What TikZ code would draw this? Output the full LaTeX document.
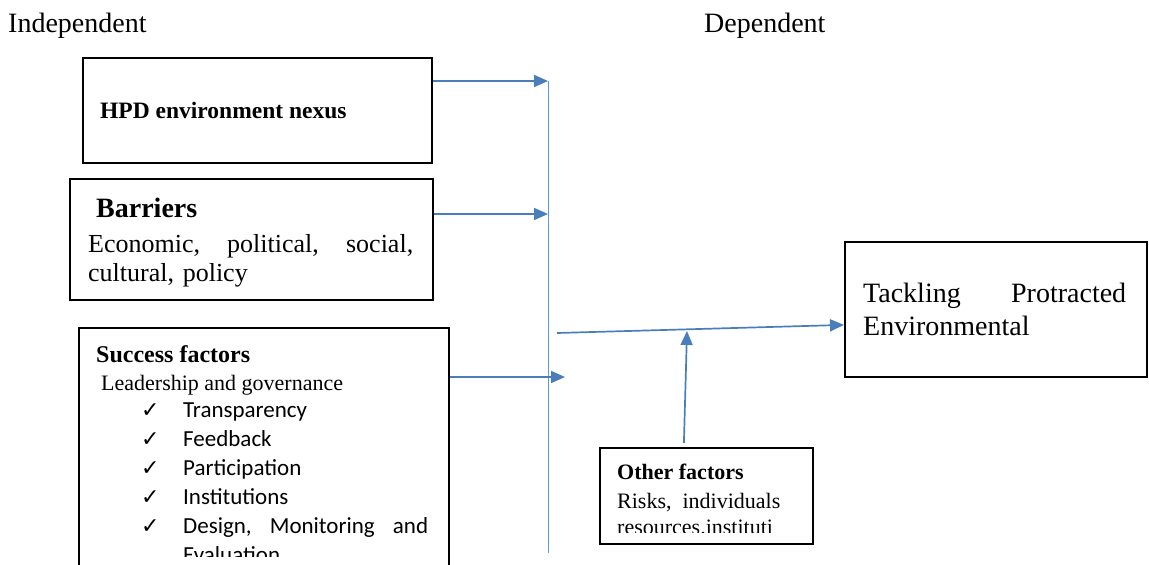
\documentclass[tikz,border=0pt]{standalone}
\usepackage{fontspec}
\setmainfont{Liberation Serif}
\newfontfamily\calfont{Carlito}
\newfontfamily\symfont{DejaVu Sans}
\usetikzlibrary{arrows.meta}
\definecolor{arrblue}{RGB}{74,126,187}
\definecolor{lineblue}{RGB}{91,155,213}
\begin{document}
\begin{tikzpicture}[x=1pt,y=-1pt,
  box/.style={draw=black,line width=1.8pt,inner sep=0pt,anchor=north west},
  txt/.style={inner sep=0pt,anchor=base west,align=left},
  arr/.style={draw=arrblue,line width=1.7pt,-{Triangle[length=14pt,width=12pt]}},
  chk/.style={inner sep=0pt,anchor=base west,font=\symfont\fontsize{22}{24}\selectfont}]
\useasboundingbox (0,0) rectangle (1149,565);

% headings
\node[txt,font=\fontsize{28}{32}\selectfont] (indep) at (8,32) {Independent};
\node[txt,font=\fontsize{28}{32}\selectfont] (dep) at (704,32) {Dependent};

% boxes
\node[box,minimum width=349pt,minimum height=105pt] (hpd) at (82,57) {};
\node[box,minimum width=363pt,minimum height=121pt] (bar) at (69,178) {};
\node[box,minimum width=370pt,minimum height=260pt] (suc) at (78,327) {};
\node[box,minimum width=302pt,minimum height=135pt] (tack) at (844,241) {};
\node[box,minimum width=213pt,minimum height=96pt] (oth) at (599,447) {};

% texts
\node[txt,font=\bfseries\fontsize{23.5}{27}\selectfont] (hpdt) at (100,118) {HPD environment nexus};
\node[txt,font=\bfseries\fontsize{28}{32}\selectfont] (bart) at (96,217) {Barriers};
\node[txt,text width=325pt,font=\fontsize{26}{29}\selectfont] (barx) at (88,252)
  {Economic,\hfill political,\hfill social,\\cultural, policy};
\node[txt,font=\bfseries\fontsize{24}{28}\selectfont] (suct) at (96,362) {Success factors};
\node[txt,font=\fontsize{22}{26}\selectfont] (lead) at (101,390) {Leadership and governance};
\foreach \y/\t [count=\i] in {417/Transparency,446/Feedback,475/Participation,504/Institutions}{
  \node[chk] (c\i) at (141,\y) {✓};
  \node[txt,font=\calfont\fontsize{23}{28}\selectfont] (s\i) at (183,\y) {\t};
}
\node[chk] (c5) at (141,533) {✓};
\begin{scope}
\clip (79,500) rectangle (447,556);
\node[txt,text width=245pt,font=\calfont\fontsize{23}{29}\selectfont] (s5) at (183,533)
  {Design,\hfill Monitoring\hfill and\\Evaluation};
\end{scope}
\node[txt,text width=263pt,font=\fontsize{28}{33}\selectfont] (tackt) at (863,302)
  {Tackling\hfill Protracted\\Environmental};
\node[txt,font=\bfseries\fontsize{22}{26}\selectfont] (otht) at (617,479) {Other factors};
\node[txt,font=\fontsize{22}{26}\selectfont] (othx) at (617,508) {Risks,\ \ individuals};
\begin{scope}
\clip (600,515) rectangle (811,532);
\node[txt,font=\fontsize{22}{26}\selectfont] (othy) at (617,534) {resources.instituti};
\end{scope}

% connectors
\coordinate (vtop) at (548,81);
\coordinate (vbot) at (548,553);
\coordinate (j2) at (548,214);
\coordinate (j3) at (565,377);
\coordinate (m0) at (557,333);
\coordinate (mm) at (687,331);
\draw[lineblue,line width=1pt] (vtop) -- (vbot);
\draw[arr] (hpd.east |- vtop) -- (vtop);
\draw[arr] (bar.east |- j2) -- (j2);
\draw[arr] (suc.east |- j3) -- (j3);
\draw[arr] (m0) -- ([yshift=-15.5pt]tack.west);
\draw[arr] ([xshift=-22.5pt,yshift=4pt]oth.north) -- (mm);
\end{tikzpicture}
\end{document}
